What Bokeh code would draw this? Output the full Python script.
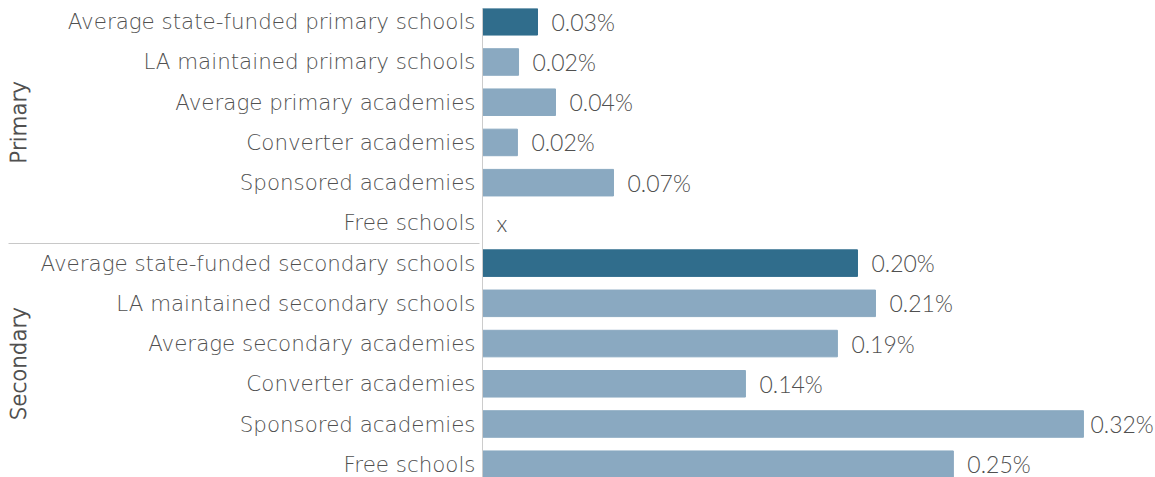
from bokeh.plotting import figure
from bokeh.models import FactorRange, Range1d, ColumnDataSource
from bokeh.embed import file_html
from bokeh.resources import INLINE
from bokeh.core.properties import value
import numpy as np

groups = ["Primary"] * 6 + ["Secondary"] * 6
categories = [
    "Average state-funded primary schools",
    "LA maintained primary schools",
    "Average primary academies",
    "Converter academies",
    "Sponsored academies",
    "Free schools",
    "Average state-funded secondary schools",
    "LA maintained secondary schools",
    "Average secondary academies",
    "Converter academies",
    "Sponsored academies",
    "Free schools",
]
values = [0.0293, 0.0192, 0.0389, 0.0186, 0.0698, np.nan,
          0.1998, 0.2094, 0.1891, 0.1401, 0.3202, 0.2509]
value_labels = ["0.03%", "0.02%", "0.04%", "0.02%", "0.07%", "x",
                "0.20%", "0.21%", "0.19%", "0.14%", "0.32%", "0.25%"]
highlight = [True, False, False, False, False, False,
             True, False, False, False, False, False]

DARK = "#306d8c"
LIGHT = "#8aa9c1"
TEXT = "#505050"
AXFONT = "DejaVu Sans Light"
VALFONT = "Lato Light"

vmax = np.nanmax(values)
factors = list(zip(groups, categories))
src = ColumnDataSource(dict(
    y=factors,
    v=values,
    lx=[0.0 if np.isnan(v) else v for v in values],
    lab=value_labels,
    off=[7 if v == vmax else 14 for v in values],
    c=[DARK if h else LIGHT for h in highlight],
))

yr = FactorRange(*reversed(factors), group_padding=0, range_padding=-0.17,
                 range_padding_units="absolute")
p = figure(y_range=yr, x_range=Range1d(0, 0.3586), width=1155, height=477,
           output_backend="svg", toolbar_location=None,
           min_border_left=482, min_border_right=0, min_border_top=8, min_border_bottom=0)

p.hbar(y="y", left=0, right="v", height=0.66, color="c", source=src)
p.text(x="lx", y="y", text="lab", source=src, x_offset="off", text_baseline="middle",
       text_align="left", text_font=value(VALFONT), text_font_size="23px", text_color=TEXT)

p.xaxis.visible = False
p.xgrid.visible = False
p.ygrid.visible = False
p.outline_line_color = None

ax = p.yaxis[0]
ax.axis_line_color = "#cccccc"
ax.major_tick_line_color = None
ax.minor_tick_line_color = None
ax.major_tick_out = 0
ax.major_tick_in = 0
ax.major_label_standoff = 7
ax.major_label_text_font = AXFONT
ax.major_label_text_font_size = "21.4px"
ax.major_label_text_color = TEXT
ax.group_text_font = AXFONT
ax.group_text_font_size = "21.4px"
ax.group_text_color = TEXT
ax.group_label_orientation = "parallel"
ax.separator_line_color = "#c8c8c8"
ax.separator_line_width = 1

open("out.html", "w").write(file_html(p, INLINE))
